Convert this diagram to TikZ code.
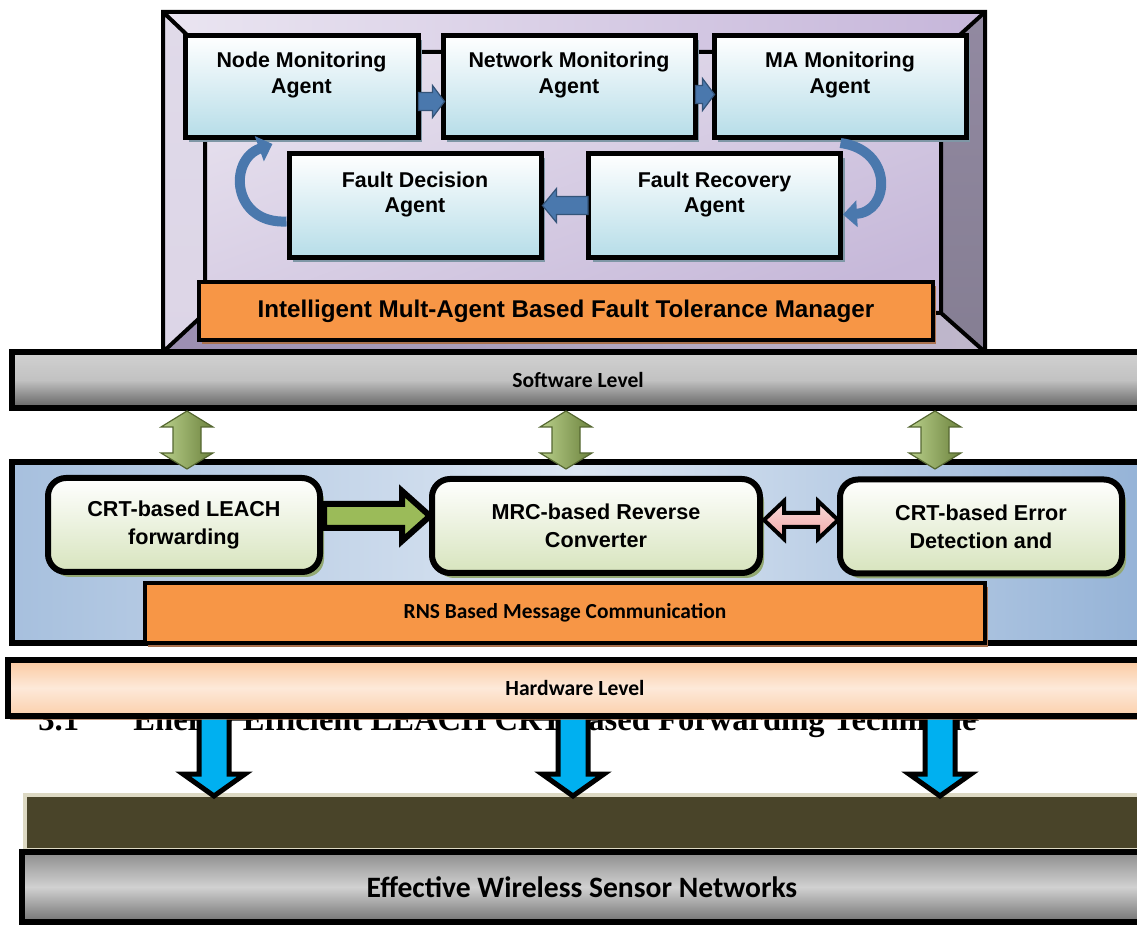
\documentclass[tikz,border=0pt]{standalone}
\usepackage{fontspec}
\setmainfont{Liberation Sans}
\newfontfamily\calibri{Carlito}
\newfontfamily\serifhead{Liberation Serif}
\usepackage{tikz}
\usetikzlibrary{arrows.meta,calc,shadows,positioning}
\definecolor{lavtop}{HTML}{EAE5F1}
\definecolor{lavtopr}{HTML}{C6B6DA}
\definecolor{lavside}{HTML}{E0DAE9}
\definecolor{lavstrip}{HTML}{857E93}
\definecolor{lavbotl}{HTML}{9B8EB1}
\definecolor{lavbotr}{HTML}{C0B8CC}
\definecolor{lavin}{HTML}{E7E1EE}
\definecolor{lavindark}{HTML}{C6B8D9}
\definecolor{agentblue}{HTML}{B6DDE8}
\definecolor{shadowblue}{HTML}{7F97A6}
\definecolor{arrowblue}{HTML}{4A78AD}
\definecolor{orange}{HTML}{F79646}
\definecolor{shadowbrown}{HTML}{A9714D}
\definecolor{leafgreen}{HTML}{9BBB59}
\definecolor{palegreen}{HTML}{D7E4BD}
\definecolor{shadowgreen}{HTML}{93A872}
\definecolor{panellight}{HTML}{DCE6F2}
\definecolor{panelblue}{HTML}{95B3D7}
\definecolor{pinkarrow}{HTML}{F2C4C3}
\definecolor{peach}{HTML}{FAC090}
\definecolor{peachlight}{HTML}{FDE9D9}
\definecolor{skyblue}{HTML}{00B0F0}
\definecolor{olive}{HTML}{494429}
\definecolor{olivebeige}{HTML}{DDD9C3}
% block arrow: style, from, to, shaft half width, head half width, head length
\newcommand{\blockarrow}[6]{%
  \coordinate (ba-h) at ($(#3)!#6!(#2)$);
  \path[#1] ($(#2)!#4!90:(#3)$) -- ($(ba-h)!#4!-90:(#2)$) -- ($(ba-h)!#5!-90:(#2)$) -- (#3)
    -- ($(ba-h)!#5!90:(#2)$) -- ($(ba-h)!#4!90:(#2)$) -- ($(#2)!#4!-90:(#3)$) -- cycle;}
\newcommand{\twoblockarrow}[6]{%
  \coordinate (ba-h) at ($(#3)!#6!(#2)$);
  \coordinate (ba-t) at ($(#2)!#6!(#3)$);
  \path[#1] (#2) -- ($(ba-t)!#5!90:(#3)$) -- ($(ba-t)!#4!90:(#3)$) -- ($(ba-h)!#4!-90:(#2)$)
    -- ($(ba-h)!#5!-90:(#2)$) -- (#3) -- ($(ba-h)!#5!90:(#2)$) -- ($(ba-h)!#4!90:(#2)$)
    -- ($(ba-t)!#4!-90:(#3)$) -- ($(ba-t)!#5!-90:(#3)$) -- cycle;}

\begin{document}
\begin{tikzpicture}[x=0.5pt,y=-0.5pt,
  agent/.style={draw,line width=2.5pt,minimum width=#1,minimum height=51pt,top color=white,bottom color=agentblue,
    drop shadow={shadow xshift=2pt,shadow yshift=-2.5pt,fill=shadowblue,opacity=1}},
  agent/.default=126pt,
  agentlbl/.style={anchor=north,align=center,inner sep=0pt,yshift=-9.5pt,font=\fontsize{10.7}{13}\selectfont\bfseries},
  orangebar/.style={draw,line width=2pt,fill=orange,drop shadow={shadow xshift=1.5pt,shadow yshift=-2pt,fill=shadowbrown,opacity=1}},
  levelbar/.style={draw,line width=3pt,minimum height=#1},
  greenbox/.style={draw,line width=3pt,rounded corners=9pt,top color=white,bottom color=palegreen,align=center,
    minimum height=47pt,font=\fontsize{10.8}{14}\selectfont\bfseries,
    drop shadow={shadow xshift=2pt,shadow yshift=-2.5pt,fill=shadowgreen,opacity=1}},
  bluearrow/.style={draw=arrowblue!70!black,line width=0.6pt,fill=arrowblue},
  curvearrow/.style={arrowblue,line width=5pt,-{Triangle[width=13pt,length=7pt]}},
  greenarrow/.style={draw=leafgreen!55!black,line width=0.6pt,left color=leafgreen!70!white,right color=leafgreen!70!black},
  skyarrow/.style={draw=black,line width=2.5pt,fill=skyblue,line join=miter}]
\useasboundingbox (0,0) rectangle (1137,925);
\clip (0,0) rectangle (1137,925);

\fill[left color=lavtop,right color=lavtopr] (163,12) -- (985,12) -- (941,52) -- (205,52) -- cycle;
\fill[top color=lavside,bottom color=lavside!85!lavindark] (163,12) -- (205,52) -- (205,313) -- (163,352) -- cycle;
\fill[top color=lavstrip!80!lavtopr,bottom color=lavstrip] (985,12) -- (941,52) -- (941,313) -- (985,352) -- cycle;
\fill[left color=lavbotl,right color=lavbotr] (163,352) -- (205,313) -- (941,313) -- (985,352) -- cycle;
\fill[top color=lavin,bottom color=lavindark,shading angle=20] (205,52) rectangle (941,313);
\draw[line width=2pt] (163,12) rectangle (985,352) (205,52) rectangle (941,313)
  (163,12) -- (205,52) (985,12) -- (941,52) (163,352) -- (205,313) (985,352) -- (941,313);

\node[agent=116.5pt] (nma) at (301.5,86.5) {};
\node[agentlbl] at (nma.north) {Node Monitoring\\Agent};
\node[agent] (netma) at (569,86.5) {};
\node[agentlbl] at (netma.north) {Network Monitoring\\Agent};
\node[agent] (mma) at (840,86.5) {};
\node[agentlbl] at (mma.north) {MA Monitoring\\Agent};
\node[agent,minimum height=52pt] (fda) at (415,205.5) {};
\node[agentlbl,yshift=-1pt,font=\fontsize{10.7}{12.5}\selectfont\bfseries] at (fda.north) {Fault Decision\\Agent};
\node[agent,minimum height=52pt] (fra) at (714.5,205.5) {};
\node[agentlbl,yshift=-1pt,font=\fontsize{10.7}{12.5}\selectfont\bfseries] at (fra.north) {Fault Recovery\\Agent};

\coordinate (nm-out) at ($(nma.east)+(-2,15)$);
\coordinate (net-in) at ($(netma.west)+(4,15)$);
\coordinate (net-out) at ($(netma.east)+(-2,8)$);
\coordinate (ma-in) at ($(mma.west)+(3,8)$);
\coordinate (fr-out) at ($(fra.west)+(2,0)$);
\coordinate (fd-in) at ($(fda.east)+(-1,0)$);
\blockarrow{bluearrow}{nm-out}{net-in}{4.5pt}{8pt}{6pt}
\blockarrow{bluearrow}{net-out}{ma-in}{4.5pt}{8pt}{6pt}
\blockarrow{bluearrow}{fr-out}{fd-in}{4.5pt}{8.5pt}{7pt}
\draw[curvearrow] ($(fda.west)+(0,16)$) .. controls (232,224) and (228,160) .. ($(nma.south west)+(90,4)$);
\draw[curvearrow] ($(mma.south west)+(129,3)$) .. controls (894,150) and (890,212) .. ($(fra.east)+(0,9)$);

\node[orangebar,minimum width=367pt,minimum height=29pt,font=\fontsize{12.1}{14}\selectfont\bfseries] (ftm) at (566,311)
  {Intelligent Mult-Agent Based Fault Tolerance Manager};

\node[levelbar=28pt,minimum width=566.5pt,top color=black!18,bottom color=black!62,middle color=black!24,
  font=\calibri\fontsize{10.8}{12}\selectfont\bfseries] (sw) at (578,380) {Software Level};

\node[levelbar=90.5pt,minimum width=566.5pt,left color=panelblue!75!panellight,right color=panelblue,middle color=panellight] (panel) at (578,553) {};

\coordinate (g1t) at (187,411); \coordinate (g1b) at (187,469);
\coordinate (g2t) at (566,411); \coordinate (g2b) at (566,469);
\coordinate (g3t) at (935,411); \coordinate (g3b) at (935,469);
\twoblockarrow{greenarrow}{g1t}{g1b}{7pt}{13pt}{8pt}
\twoblockarrow{greenarrow}{g2t}{g2b}{7pt}{13pt}{8pt}
\twoblockarrow{greenarrow}{g3t}{g3b}{7pt}{13pt}{8pt}

\node[greenbox,minimum width=136pt] (leach) at (184,525) {CRT-based LEACH\\forwarding};
\node[greenbox,minimum width=164pt] (mrc) at (596,526) {MRC-based Reverse\\Converter};
\node[greenbox,minimum width=141pt] (err) at (981,526.5) {CRT-based Error\\Detection and};

\coordinate (le-out) at ($(leach.east)+(1,-9)$);
\coordinate (mrc-in) at ($(mrc.west)+(1,-10)$);
\blockarrow{draw=black,line width=3pt,fill=leafgreen,line join=miter}{le-out}{mrc-in}{6pt}{12.5pt}{14pt}
\coordinate (mrc-out) at ($(mrc.east)+(1,-6)$);
\coordinate (err-in) at ($(err.west)+(1,-6.5)$);
\twoblockarrow{draw=black,line width=2pt,top color=pinkarrow!60!white,bottom color=pinkarrow!85!red,line join=miter}{mrc-out}{err-in}{3.5pt}{9.5pt}{10pt}

\node[orangebar,minimum width=420pt,minimum height=30pt,font=\calibri\fontsize{10.7}{12}\selectfont\bfseries] (rns) at (565,613)
  {RNS Based Message Communication};

\node[anchor=base west,inner sep=0pt,font=\serifhead\bfseries\fontsize{16.3}{18}\selectfont] (secnum) at (38,731) {3.1};
\node[anchor=base west,inner sep=0pt,font=\serifhead\bfseries\fontsize{16.3}{18}\selectfont] (sectitle) at (133,731)
  {Energy Efficient LEACH CRT-based Forwarding Technique};

\node[draw=olivebeige,line width=2pt,fill=olive,minimum width=559pt,minimum height=27.5pt] (ground) at (584,822.5) {};
\node[levelbar=35pt,minimum width=560pt,top color=black!45,bottom color=black!55,middle color=black!18,
  font=\calibri\fontsize{14.8}{17}\selectfont\bfseries] (wsn) at (582,887) {Effective Wireless Sensor Networks};

\coordinate (b1t) at (214,696); \coordinate (b1b) at (214,796);
\coordinate (b2t) at (573,696); \coordinate (b2b) at (573,796);
\coordinate (b3t) at (940,696); \coordinate (b3b) at (940,796);
\twoblockarrow{skyarrow}{b1t}{b1b}{7.5pt}{15.5pt}{11pt}
\twoblockarrow{skyarrow}{b2t}{b2b}{7.5pt}{15.5pt}{11pt}
\twoblockarrow{skyarrow}{b3t}{b3b}{7.5pt}{15.5pt}{11pt}

\node[levelbar=27.5pt,minimum width=567pt,top color=peach!85,bottom color=peach!75,middle color=peachlight,
  drop shadow={shadow xshift=1pt,shadow yshift=-2pt,fill=shadowbrown,opacity=0.7},
  font=\calibri\fontsize{10.8}{12}\selectfont\bfseries] (hw) at (575,688) {Hardware Level};
\end{tikzpicture}
\end{document}
